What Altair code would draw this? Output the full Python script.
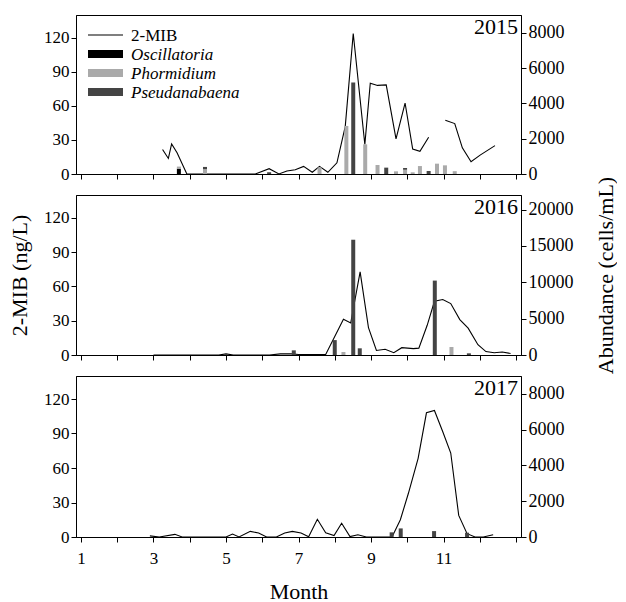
import altair as alt
import pandas as pd

FONT = "Liberation Serif"

years = ["2015", "2016", "2017"]
species = ["Oscillatoria", "Phormidium", "Pseudanabaena"]
species_colors = ["#000000", "#aaaaaa", "#444444"]
legend_labels = ["2-MIB", "Oscillatoria", "Phormidium", "Pseudanabaena"]

# ---- 2015 ----
mib15_month = [3.25, 3.41, 3.50, 3.65, 3.92, 5.81, 6.19, 6.46, 6.68, 6.91, 7.14, 7.38, 7.58, 7.81,
               8.06, 8.29, 8.51, 8.83, 8.98, 9.18, 9.42, 9.69, 9.94, 10.15, 10.35, 10.59, None,
               11.05, 11.31, 11.52, 11.76, 12.01, 12.42]
mib15_val = [21.6, 13.7, 26.5, 18.7, 0, 0, 4.7, 0, 2.6, 3.8, 6.7, 1.5, 6.7, 1.5,
             9.9, 42, 123.7, 26, 80, 78, 78.5, 31, 62.5, 22, 20, 32.4, None,
             47.3, 44.4, 23, 10.8, 16.6, 25]
bar15_month = [3.70, 4.42, 6.19, 7.58, 8.32, 8.51, 8.84, 9.18, 9.42, 9.69, 9.94, 10.15, 10.35,
               10.59, 10.82, 11.04, 11.31]
osc15 = [300, 0, 0, 0, 0, 0, 0, 0, 0, 0, 0, 0, 0, 0, 0, 0, 0]
pho15 = [120, 270, 0, 380, 2720, 0, 1680, 510, 0, 150, 240, 95, 450, 0, 585, 490, 160]
pse15 = [0, 130, 100, 0, 0, 5180, 0, 0, 360, 0, 100, 0, 0, 170, 0, 0, 0]

# ---- 2016 ----
mib16_month = [3.0, 4.8, 5.0, 5.2, 6.2, 6.5, 6.8, 7.0, 7.75, 8.24, 8.44, 8.70, 8.93, 9.15, 9.39,
               9.63, 9.85, 10.17, 10.32, 10.55, 10.75, 10.98, 11.2, 11.45, 11.68, 11.95, 12.17,
               12.4, 12.62, 12.85]
mib16_val = [0, 0, 1, 0, 0, 1, 1, 0.5, 0.5, 31.3, 28, 72.7, 24, 4, 5, 2, 6.4, 5.6, 6, 26, 47,
             48.5, 45, 31, 23.5, 9, 3, 2, 2.6, 1.3]
bar16_month = [6.87, 8.0, 8.24, 8.51, 8.69, 10.76, 11.22, 11.7]
osc16 = [0, 0, 0, 0, 0, 0, 0, 0]
pho16 = [0, 0, 410, 0, 0, 0, 1100, 0]
pse16 = [640, 2050, 0, 15850, 920, 10230, 0, 230]

# ---- 2017 ----
mib17_month = [2.9, 3.16, 3.59, 3.79, 5.0, 5.18, 5.36, 5.67, 5.9, 6.12, 6.39, 6.62, 6.83, 7.07,
               7.28, 7.52, 7.75, 7.98, 8.19, 8.42, 8.64, 8.87, 9.58, 9.81, 10.03, 10.3, 10.53,
               10.75, 10.98, 11.2, 11.42, 11.65, 11.87, 12.1, 12.37]
mib17_val = [1, 0, 2.3, 0, 0, 2.6, 0, 4.9, 3.5, 0, 0, 3.5, 4.9, 3.5, 0.3, 15.4, 3.6, 1.2, 12,
             0.3, 2, 0, 0, 15, 37.8, 68.4, 108, 110, 91.5, 73, 18.8, 2.9, 0, 0, 2]
bar17_month = [9.57, 9.82, 10.74, 11.65]
osc17 = [0, 0, 0, 0]
pho17 = [0, 0, 0, 0]
pse17 = [260, 480, 330, 240]


def line_df(months, vals):
    rows, seg = [], 0
    for m, v in zip(months, vals):
        if m is None or v is None:
            seg += 1
            continue
        rows.append({"month": m, "mib": v, "seg": seg})
    return pd.DataFrame(rows)


def bar_df(months, osc, pho, pse):
    rows = []
    for i, m in enumerate(months):
        for k, (sp, arr) in enumerate(zip(species, [osc, pho, pse])):
            if arr[i] > 0:
                rows.append({"month": m, "species": sp, "abundance": arr[i], "ord": k})
    return pd.DataFrame(rows)


def panel(year, ldf, bdf, ab_max, ab_ticks, h, bottom=False, titles=False, legend=False):
    xaxis = alt.Axis(values=list(range(1, 14)), labels=bottom,
                     labelExpr="datum.value % 2 == 1 && datum.value < 13 ? datum.label : ''",
                     title="Month" if bottom else None, titlePadding=15, labelPadding=8)
    x = alt.X("month:Q", scale=alt.Scale(domain=[1, 13], nice=False, zero=False), axis=xaxis)
    line = alt.Chart(ldf).mark_line(color="black", strokeWidth=1.1).encode(
        x=x,
        y=alt.Y("mib:Q", scale=alt.Scale(domain=[0, 140], nice=False),
                axis=alt.Axis(values=[0, 30, 60, 90, 120], format="d", orient="left",
                              title="2-MIB (ng/L)" if titles else None, titlePadding=12)),
        detail="seg:N",
    )
    bars = alt.Chart(bdf).mark_bar(size=4).encode(
        x=x,
        y=alt.Y("abundance:Q", stack="zero", scale=alt.Scale(domain=[0, ab_max], nice=False),
                axis=alt.Axis(values=ab_ticks, format="d", orient="right", labelFontSize=18,
                              title="Abundance (cells/mL)" if titles else None,
                              titleAngle=270, titlePadding=44)),
        color=alt.Color("species:N", scale=alt.Scale(domain=species, range=species_colors),
                        legend=None),
        order=alt.Order("ord:Q"),
    )
    ytxt = alt.Chart(pd.DataFrame({"year": [year]})).mark_text(
        align="right", baseline="top", fontSize=22, font=FONT, color="black"
    ).encode(text="year:N", x=alt.value(442), y=alt.value(2))
    layers = [line, bars, ytxt]
    if legend:
        ld = pd.DataFrame({"lab": legend_labels})
        layers.append(alt.Chart(ld).transform_filter(alt.datum.lab == "2-MIB").mark_rule(
            color="black", strokeWidth=1.1).encode(x=alt.value(12), x2=alt.value(47), y=alt.value(20)))
        for i, sp in enumerate(species):
            yc = 20 + 19 * (i + 1)
            layers.append(alt.Chart(ld).transform_filter(alt.datum.lab == sp).mark_rect(
                color=species_colors[i]).encode(
                x=alt.value(12), x2=alt.value(47), y=alt.value(yc - 4), y2=alt.value(yc + 4)))
        for i, lab in enumerate(legend_labels):
            layers.append(alt.Chart(ld).transform_filter(alt.datum.lab == lab).mark_text(
                align="left", baseline="middle", fontSize=17, font=FONT, color="black",
                fontStyle="normal" if i == 0 else "italic").encode(
                text="lab:N", x=alt.value(55), y=alt.value(20 + 19 * i + 1)))
    return alt.layer(*layers).resolve_scale(y="independent").properties(width=445, height=h)


p1 = panel(years[0], line_df(mib15_month, mib15_val), bar_df(bar15_month, osc15, pho15, pse15),
           9000, [0, 2000, 4000, 6000, 8000], 159, legend=True)
p2 = panel(years[1], line_df(mib16_month, mib16_val), bar_df(bar16_month, osc16, pho16, pse16),
           22000, [0, 5000, 10000, 15000, 20000], 160, titles=True)
p3 = panel(years[2], line_df(mib17_month, mib17_val), bar_df(bar17_month, osc17, pho17, pse17),
           9000, [0, 2000, 4000, 6000, 8000], 161, bottom=True)

chart = alt.vconcat(p1, p2, p3, spacing=21, bounds="flush").properties(
    padding={"left": 0, "top": 6, "right": 0, "bottom": 0}, background="white"
).configure_view(stroke="black", strokeWidth=1).configure_axis(
    labelFont=FONT, labelFontSize=17, labelColor="black",
    titleFont=FONT, titleFontSize=22, titleFontWeight="normal", titleColor="black",
    domainColor="black", tickColor="black", tickSize=5, grid=False,
)

chart.save("out.html", embed_options={"renderer": "svg", "actions": False})
